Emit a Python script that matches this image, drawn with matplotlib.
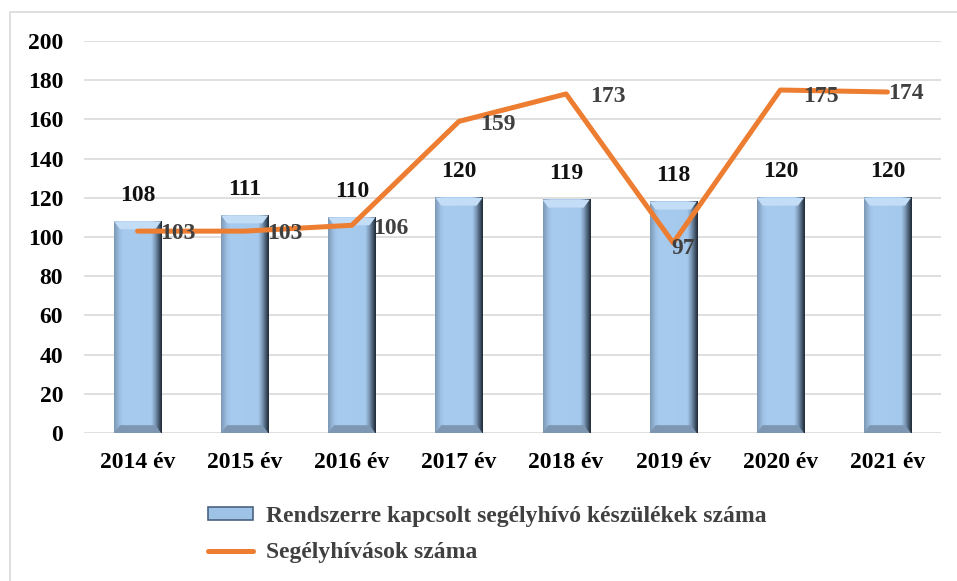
import numpy as np
import matplotlib.pyplot as plt
from matplotlib.colors import LinearSegmentedColormap
from matplotlib.patches import Polygon, Patch, Rectangle
from matplotlib.lines import Line2D

# data
years = ['2014 év', '2015 év', '2016 év', '2017 év', '2018 év', '2019 év', '2020 év', '2021 év']
devices = [108, 111, 110, 120, 119, 118, 120, 120]
calls = [103, 103, 106, 159, 173, 97, 175, 174]
# where the line labels sit relative to their point (points)
call_label_dx = [29, 29, 28, 28, 30, 7, 29, 13]
call_label_dy = [-2, -2, -2, -2, -2, -4, -5, -1]

bar_name = 'Rendszerre kapcsolt segélyhívó készülékek száma'
line_name = 'Segélyhívások száma'

plt.rcParams['font.family'] = ['Liberation Serif', 'DejaVu Serif']
plt.rcParams['font.weight'] = 'bold'
FS = 17

fig = plt.figure(figsize=(9.57, 5.81), dpi=100)
ax = fig.add_axes([0.0878, 0.2547, 0.8955, 0.6747])

# outer chart border
fig.patches.append(Rectangle((10 / 957, -0.05), 1.2, 1 - 12 / 581 + 0.05,
                             transform=fig.transFigure, fill=False,
                             edgecolor='#d9d9d9', linewidth=1.2))

x = np.arange(len(years))
w = 0.44
ax.set_xlim(-0.5, len(years) - 0.5)
ax.set_ylim(0, 200)

# horizontal gradient to fake the beveled bars
grad = LinearSegmentedColormap.from_list(
    'bev', [(0.0, '#7c97b5'), (0.12, '#9dc0e3'), (0.2, '#a7cbef'), (0.78, '#a5c9ed'),
            (0.86, '#7d99b8'), (0.94, '#44576c'), (1.0, '#1e2833')])
gx = np.linspace(0, 1, 256).reshape(1, -1)
bev_h = 4.0
bev_w = 0.055
for xi, v in zip(x, devices):
    ax.imshow(gx, cmap=grad, aspect='auto', extent=[xi - w / 2, xi + w / 2, 0, v],
              zorder=2, interpolation='bilinear')
    # top bevel
    ax.add_patch(Polygon([[xi - w / 2, v], [xi + w / 2, v],
                          [xi + w / 2 - bev_w, v - bev_h], [xi - w / 2 + bev_w, v - bev_h]],
                         closed=True, facecolor='#c3ddf6', edgecolor='none', zorder=3))
    # bottom bevel
    ax.add_patch(Polygon([[xi - w / 2, 0], [xi + w / 2, 0],
                          [xi + w / 2 - bev_w, bev_h], [xi - w / 2 + bev_w, bev_h]],
                         closed=True, facecolor='#7d96b2', edgecolor='none', zorder=3))
    ax.text(xi, v + 8, str(v), ha='center', va='bottom', fontsize=FS,
            fontweight='bold', color='#111111', zorder=5)

ax.plot(x, calls, color='#ED7D31', linewidth=3.6, solid_capstyle='round', zorder=4)
for xi, v, dx, dy in zip(x, calls, call_label_dx, call_label_dy):
    ax.annotate(str(v), (xi, v), xytext=(dx, dy), textcoords='offset points',
                ha='center', va='center', fontsize=FS, fontweight='bold',
                color='#404040', zorder=5)

ax.set_yticks(np.arange(0, 201, 20))
ax.yaxis.grid(True, color='#d9d9d9', linewidth=1.2)
ax.set_axisbelow(True)
ax.set_xticks(x)
ax.set_xticklabels(years)
ax.tick_params(length=0, labelsize=FS, colors='#000000')
ax.tick_params(axis='y', pad=15)
ax.tick_params(axis='x', pad=14)
for s in ax.spines.values():
    s.set_visible(False)

handles = [Patch(facecolor='#9ec3e6', edgecolor='#4a6480', linewidth=1.2),
           Line2D([0], [0], color='#ED7D31', linewidth=3.6, solid_capstyle='round')]
leg = fig.legend(handles, [bar_name, line_name], loc='upper left',
                 bbox_to_anchor=(208 / 957, 1 - 506 / 581), frameon=False, borderpad=0,
                 borderaxespad=0, fontsize=FS, handlelength=1.9, handleheight=0.45,
                 handletextpad=0.55, labelspacing=0.65)
for t in leg.get_texts():
    t.set_color('#404040')

fig.savefig('out.png', dpi=100)
